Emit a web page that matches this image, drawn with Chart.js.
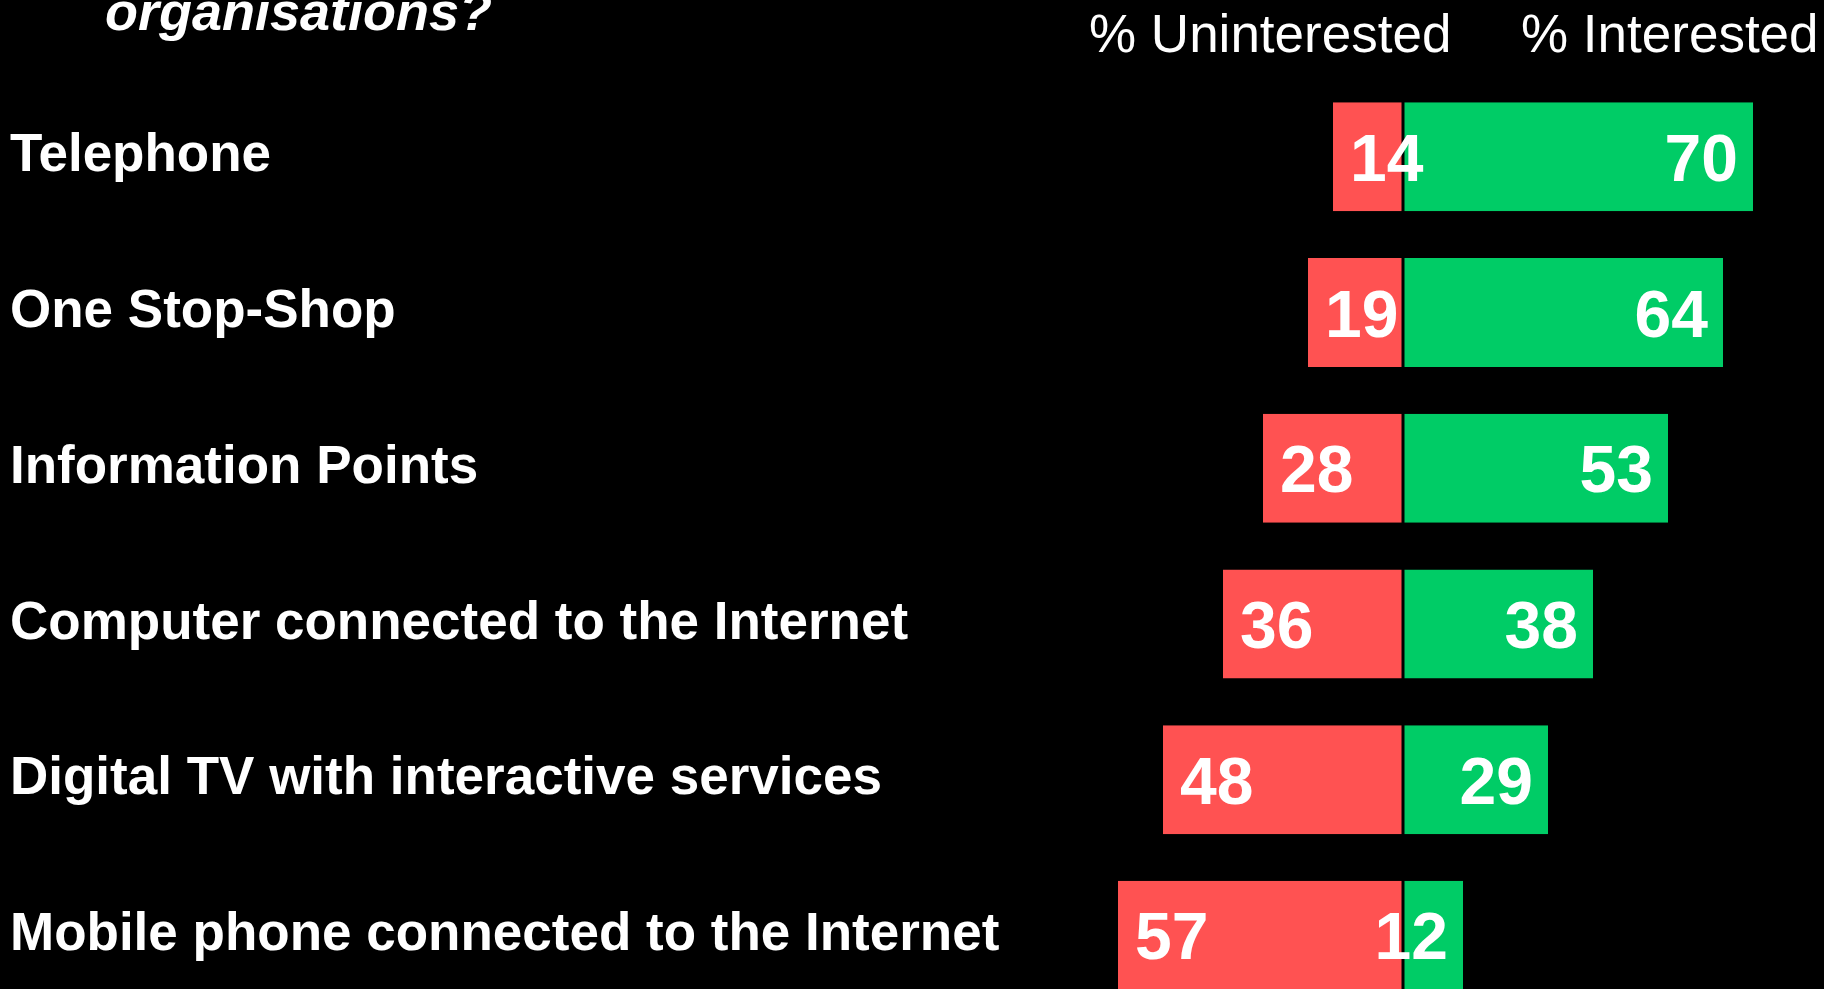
<!DOCTYPE html>
<html>
<head>
<meta charset="utf-8">
<script src="https://cdn.jsdelivr.net/npm/chart.js@4.4.1/dist/chart.umd.min.js"></script>
<style>
  html, body { margin: 0; padding: 0; background: #000; overflow: hidden; }
  #wrap { position: absolute; left: 0; top: 0; }
</style>
</head>
<body>
<div id="wrap"><canvas id="channelChart" width="1824" height="1045"></canvas></div>
<script>
const channels = [
  "Telephone",
  "One Stop-Shop",
  "Information Points",
  "Computer connected to the Internet",
  "Digital TV with interactive services",
  "Mobile phone connected to the Internet"
];
const uninterested = [14, 19, 28, 36, 48, 57];
const interested = [70, 64, 53, 38, 29, 12];
const headers = ["% Uninterested", "% Interested"];
const titleTail = "organisations?";

const RED = "#ff5252";
const GREEN = "#00cc66";
const FONT = '"Liberation Sans", Arial, Helvetica, sans-serif';

// numbers inside the bars: red ones at the outer left end, green ones at the outer right end
const barLabels = {
  id: "barLabels",
  afterDatasetsDraw(chart) {
    const ctx = chart.ctx;
    ctx.save();
    ctx.fillStyle = "#fff";
    ctx.textBaseline = "alphabetic";
    ctx.font = "bold 66px " + FONT;
    chart.data.datasets.forEach(function (ds, i) {
      const meta = chart.getDatasetMeta(i);
      meta.data.forEach(function (bar, j) {
        const v = ds.data[j];
        const y = bar.y + 24;
        if (v < 0) {
          ctx.textAlign = "left";
          ctx.fillText(String(-v), bar.x + 17, y);
        } else {
          ctx.textAlign = "right";
          ctx.fillText(String(v), bar.x - 15, y);
        }
      });
    });
    ctx.restore();
  }
};

// column headers over the bars + last line of the question
const headerText = {
  id: "headerText",
  afterDraw(chart) {
    const ctx = chart.ctx;
    const zero = chart.scales.x.getPixelForValue(0);
    ctx.save();
    ctx.fillStyle = "#fff";
    ctx.textAlign = "left";
    ctx.textBaseline = "alphabetic";
    ctx.font = "53px " + FONT;
    ctx.fillText(headers[0], zero - 314, 52);
    ctx.fillText(headers[1], zero + 118, 52);
    ctx.font = "italic bold 54px " + FONT;
    ctx.fillText(titleTail, 105, 30);
    ctx.restore();
  }
};

const ctx = document.getElementById("channelChart").getContext("2d");
const chart = new Chart(ctx, {
  type: "bar",
  data: {
    labels: channels,
    datasets: [
      {
        label: headers[0],
        data: uninterested.map(v => -v),
        backgroundColor: RED,
        borderColor: "#000",
        borderSkipped: false,
        borderWidth: { top: 0, bottom: 0, left: 0, right: 1.5 },
        barPercentage: 0.7,
        categoryPercentage: 1.0
      },
      {
        label: headers[1],
        data: interested,
        backgroundColor: GREEN,
        borderColor: "#000",
        borderSkipped: false,
        borderWidth: { top: 0, bottom: 0, left: 1.5, right: 0 },
        barPercentage: 0.7,
        categoryPercentage: 1.0
      }
    ]
  },
  options: {
    indexAxis: "y",
    responsive: false,
    animation: false,
    layout: { padding: { left: 10, right: 1, top: 79, bottom: 1 } },
    scales: {
      x: {
        display: false,
        stacked: true,
        min: -80,
        max: 84
      },
      y: {
        stacked: true,
        grid: { display: false, drawTicks: false },
        border: { display: false },
        afterFit: function (scale) { scale.width = 993; },
        ticks: {
          color: "#fff",
          crossAlign: "far",
          padding: 0,
          font: { family: FONT, size: 53, weight: "bold" }
        }
      }
    },
    plugins: {
      legend: { display: false },
      tooltip: { enabled: false },
      title: { display: false }
    }
  },
  plugins: [barLabels, headerText]
});
</script>
</body>
</html>
